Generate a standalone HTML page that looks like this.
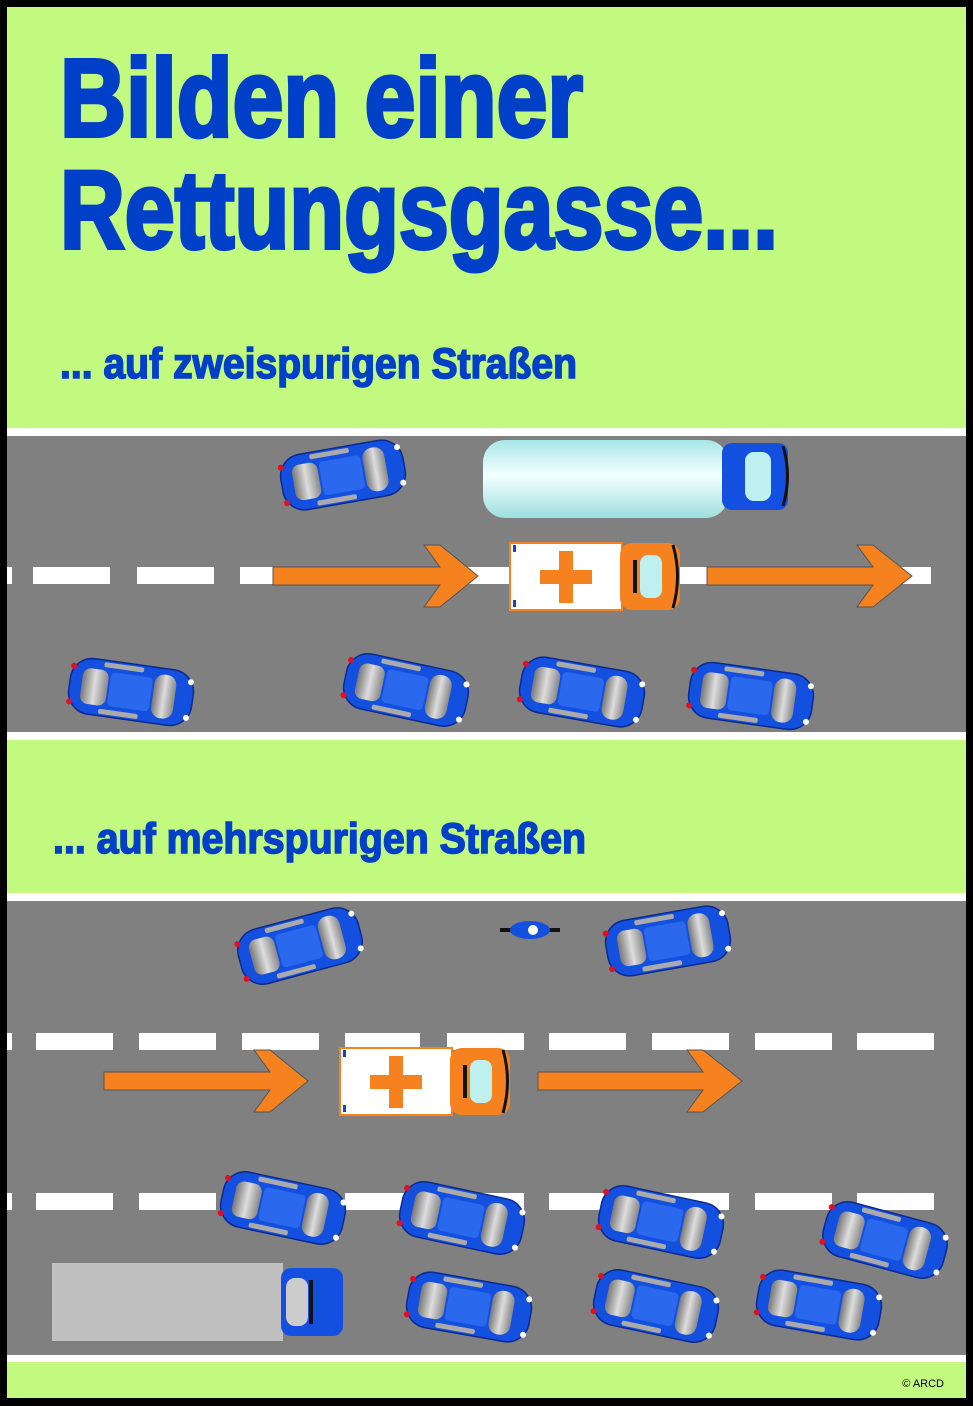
<!DOCTYPE html>
<html><head><meta charset="utf-8"><style>
html,body{margin:0;padding:0;background:#000;}
svg{display:block;}
</style></head><body>
<svg width="973" height="1406" viewBox="0 0 973 1406" xmlns="http://www.w3.org/2000/svg">
<defs>
<linearGradient id="tank" x1="0" y1="0" x2="0" y2="1">
<stop offset="0" stop-color="#a8e6e6"/><stop offset="0.45" stop-color="#f4ffff"/><stop offset="1" stop-color="#9fdede"/>
</linearGradient>
<linearGradient id="glass" x1="0" y1="0" x2="1" y2="0">
<stop offset="0" stop-color="#777"/><stop offset="0.5" stop-color="#ddd"/><stop offset="1" stop-color="#888"/>
</linearGradient>
<g id="car">
<rect x="-62" y="-28" width="124" height="56" rx="22" fill="#1450e0" stroke="#0a2a90" stroke-width="1.5"/>
<rect x="-50" y="-18" width="26" height="36" rx="8" fill="url(#glass)"/>
<rect x="-22" y="-17" width="42" height="34" rx="4" fill="#2a68ee"/>
<rect x="22" y="-22" width="22" height="44" rx="10" fill="url(#glass)"/>
<rect x="-30" y="-26" width="40" height="5" rx="2" fill="#aaa"/>
<rect x="-30" y="21" width="40" height="5" rx="2" fill="#aaa"/>
<circle cx="-60" cy="-18" r="3" fill="#e01020"/><circle cx="-60" cy="18" r="3" fill="#e01020"/>
<circle cx="58" cy="-18" r="3" fill="#fff"/><circle cx="58" cy="18" r="3" fill="#fff"/>
</g>
<g id="amb">
<rect x="0" y="0" width="112" height="67" fill="#fff" stroke="#f5821f" stroke-width="2"/>
<rect x="110" y="0" width="60" height="67" rx="12" fill="#f5821f"/>
<rect x="30" y="27" width="52" height="14" fill="#f5821f"/>
<rect x="49" y="8" width="14" height="52" fill="#f5821f"/>
<rect x="130" y="12" width="22" height="43" rx="8" fill="#bff0f0"/>
<rect x="123" y="17" width="4" height="33" fill="#111"/>
<rect x="3" y="2" width="3" height="7" fill="#1545c0"/><rect x="3" y="57" width="3" height="7" fill="#1545c0"/>
<path d="M163 2 Q172 33 163 65" stroke="#111" stroke-width="3" fill="none"/>
</g>
</defs>
<rect x="0" y="0" width="973" height="1406" fill="#000"/>
<rect x="7" y="7" width="959" height="1391" fill="#c2fa80"/>
<g font-family="'Liberation Sans Narrow','Liberation Sans',sans-serif" font-weight="bold" fill="#0040c8" stroke="#0040c8">
<text x="60" y="136" font-size="110" stroke-width="4" textLength="523" lengthAdjust="spacingAndGlyphs">Bilden einer</text>
<text x="60" y="248" font-size="110" stroke-width="4" textLength="718" lengthAdjust="spacingAndGlyphs">Rettungsgasse...</text>
<text x="60" y="378" font-size="43" stroke-width="1.6" textLength="517" lengthAdjust="spacingAndGlyphs">...  auf zweispurigen Straßen</text>
<text x="53" y="853" font-size="43" stroke-width="1.6" textLength="533" lengthAdjust="spacingAndGlyphs">...  auf mehrspurigen Straßen</text>
</g>
<!-- road 1 -->
<rect x="7" y="428" width="959" height="312" fill="#fff"/>
<rect x="7" y="436" width="959" height="296" fill="#808080"/>
<g fill="#fff">
<rect x="7" y="567" width="5" height="17"/>
<rect x="33" y="567" width="77" height="17"/><rect x="137" y="567" width="77" height="17"/>
<rect x="240" y="567" width="78" height="17"/><rect x="343" y="567" width="77" height="17"/>
<rect x="447" y="567" width="77" height="17"/><rect x="550" y="567" width="77" height="17"/>
<rect x="653" y="567" width="77" height="17"/><rect x="757" y="567" width="77" height="17"/>
<rect x="860" y="567" width="71" height="17"/>
</g>
<use href="#car" transform="translate(343,475) rotate(-10)"/>
<rect x="483" y="440" width="245" height="78" rx="22" fill="url(#tank)"/>
<rect x="722" y="443" width="66" height="67" rx="10" fill="#1450e0"/>
<rect x="745" y="452" width="26" height="49" rx="9" fill="#bff0f0"/>
<path d="M783 446 Q792 476 783 506" stroke="#111" stroke-width="3" fill="none"/>
<polygon points="273,567 440,567 424,545 440,545 478,576 440,607 424,607 440,585 273,585" fill="#f5821f" stroke="#555" stroke-width="1"/>
<use href="#amb" transform="translate(510,543)"/>
<polygon points="707,567 873,567 857,545 873,545 912,576 873,607 857,607 873,585 707,585" fill="#f5821f" stroke="#555" stroke-width="1"/>
<use href="#car" transform="translate(131,692) rotate(8)"/>
<use href="#car" transform="translate(406,690) rotate(12)"/>
<use href="#car" transform="translate(582,692) rotate(10)"/>
<use href="#car" transform="translate(751,696) rotate(8)"/>
<!-- road 2 -->
<rect x="7" y="893" width="959" height="469" fill="#fff"/>
<rect x="7" y="901" width="959" height="454" fill="#808080"/>
<g fill="#fff">
<rect x="7" y="1033" width="5" height="17"/>
<rect x="36" y="1033" width="77" height="17"/><rect x="139" y="1033" width="77" height="17"/>
<rect x="242" y="1033" width="77" height="17"/><rect x="345" y="1033" width="75" height="17"/>
<rect x="447" y="1033" width="77" height="17"/><rect x="549" y="1033" width="77" height="17"/>
<rect x="652" y="1033" width="77" height="17"/><rect x="755" y="1033" width="77" height="17"/>
<rect x="857" y="1033" width="77" height="17"/>
<rect x="7" y="1193" width="5" height="17"/>
<rect x="36" y="1193" width="77" height="17"/><rect x="139" y="1193" width="77" height="17"/>
<rect x="242" y="1193" width="77" height="17"/><rect x="345" y="1193" width="75" height="17"/>
<rect x="447" y="1193" width="77" height="17"/><rect x="549" y="1193" width="77" height="17"/>
<rect x="652" y="1193" width="77" height="17"/><rect x="755" y="1193" width="77" height="17"/>
<rect x="857" y="1193" width="77" height="17"/>
</g>
<use href="#car" transform="translate(300,946) rotate(-15)"/>
<g transform="translate(530,930)">
<rect x="-30" y="-2" width="60" height="4" fill="#111"/>
<ellipse cx="0" cy="0" rx="20" ry="9" fill="#1450e0"/>
<circle cx="3" cy="0" r="5" fill="#fff"/>
</g>
<use href="#car" transform="translate(668,941) rotate(-10)"/>
<polygon points="104,1072 270,1072 254,1050 270,1050 308,1081 270,1112 254,1112 270,1090 104,1090" fill="#f5821f" stroke="#555" stroke-width="1"/>
<use href="#amb" transform="translate(340,1048)"/>
<polygon points="538,1072 703,1072 687,1050 703,1050 742,1081 703,1112 687,1112 703,1090 538,1090" fill="#f5821f" stroke="#555" stroke-width="1"/>
<use href="#car" transform="translate(283,1208) rotate(12)"/>
<use href="#car" transform="translate(462,1218) rotate(12)"/>
<use href="#car" transform="translate(661,1222) rotate(12)"/>
<use href="#car" transform="translate(885,1240) rotate(15)"/>
<rect x="52" y="1263" width="231" height="78" fill="#c0c0c0"/>
<rect x="281" y="1268" width="62" height="68" rx="10" fill="#1450e0"/>
<rect x="286" y="1278" width="22" height="48" rx="9" fill="#ccc"/>
<rect x="309" y="1280" width="4" height="44" fill="#111"/>
<use href="#car" transform="translate(469,1307) rotate(10)"/>
<use href="#car" transform="translate(656,1306) rotate(12)"/>
<use href="#car" transform="translate(819,1305) rotate(10)"/>
<text x="944" y="1387" font-family="'Liberation Sans',sans-serif" font-size="11" fill="#000" text-anchor="end">© ARCD</text>
</svg>
</body></html>
